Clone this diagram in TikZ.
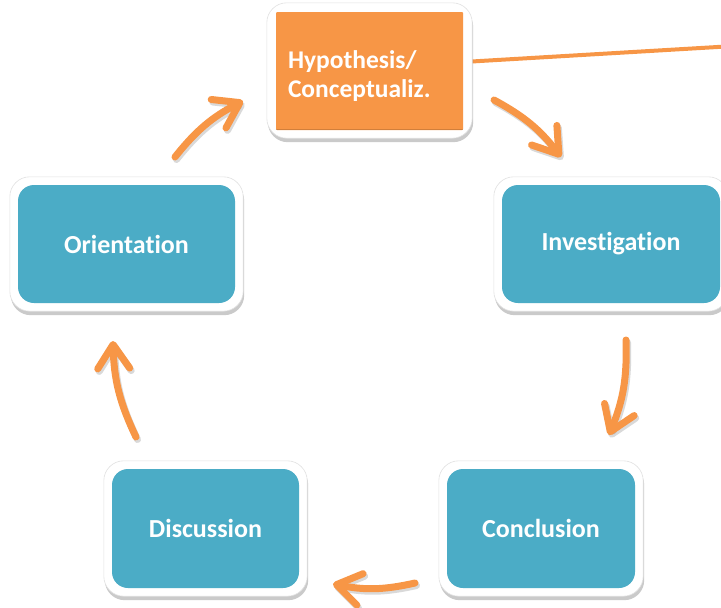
\documentclass[tikz,border=0pt]{standalone}
\usepackage{fontspec}
\setmainfont{Carlito}[Ligatures=NoCommon]
\usetikzlibrary{arrows.meta,shadows,calc}
\definecolor{stageblue}{HTML}{4BACC6}
\definecolor{stageorange}{HTML}{F79646}
\pgfdeclarelayer{back}
\pgfdeclarelayer{mid}
\pgfsetlayers{back,mid,main}
\tikzset{
  stagebox/.style={rounded corners=16pt, fill=stageblue, text=white,
    font=\bfseries\fontsize{26}{29}\selectfont, minimum height=118pt, inner sep=0pt},
  hypbox/.style={rounded corners=1pt, fill=stageorange, text=white,
    font=\bfseries\fontsize{25.5}{29}\selectfont, minimum height=118pt,
    text width=163pt, inner xsep=12pt, inner ysep=0pt, align=left},
  framebox/.style={fill=white, draw=black!12, line width=0.6pt, rounded corners=20pt,
    drop shadow={shadow xshift=1pt, shadow yshift=-4pt, opacity=.35, fill=black!60}},
  cyclearrow/.style={draw=stageorange, line width=7pt, line cap=round,
    -{Straight Barb[round, length=24pt, width=32pt]}},
  arrowshade/.style={draw=black, opacity=.15, line width=7pt, line cap=round,
    -{Straight Barb[round, length=24pt, width=32pt]}},
  linkline/.style={draw=stageorange, line width=4pt},
  edgeshade/.style={draw=stageorange!70!black, opacity=.5, line width=1.5pt}
}
\begin{document}
\begin{tikzpicture}[x=1pt,y=-1pt]
\useasboundingbox (0,0) rectangle (721,608);
% stages
\node[hypbox] (hyp) at (369.5,71) {\rule{0pt}{28pt}Hypothesis/\\Conceptualiz.};
\node[stagebox, minimum width=217pt] (orient) at (126.5,244) {Orientation};
\node[stagebox, minimum width=218pt] (inv) at (611,244) {Investigation};
\node[stagebox, minimum width=187pt, minimum height=119pt] (disc) at (205.5,528.5) {Discussion};
\node[stagebox, minimum width=188pt, minimum height=119pt] (conc) at (541,528.5) {Conclusion};
\draw[edgeshade] ($(hyp.south west)+(0,-0.75)$) -- ($(hyp.south east)+(0,-0.75)$);
% frames
\begin{pgfonlayer}{mid}
  \path[framebox] ($(hyp.north west)+(-9,-9)$) rectangle ($(hyp.south east)+(9,8)$);
  \foreach \n in {orient,inv,disc,conc}
    \path[framebox] ($(\n.north west)+(-8,-8)$) rectangle ($(\n.south east)+(8,8)$);
\end{pgfonlayer}
% line to the right
\coordinate (offright) at (726,46.5);
\begin{pgfonlayer}{back}
  \draw[linkline] ($(hyp.east)+(0,-9)$) -- (offright);
\end{pgfonlayer}
% cycle arrows
\coordinate (a1s) at (175,157);  \coordinate (a1e) at (243,101);
\coordinate (a2s) at (494,100);  \coordinate (a2e) at (561,157);
\coordinate (a3s) at (626,340);  \coordinate (a3e) at (609,435);
\coordinate (a4s) at (415,583);  \coordinate (a4e) at (333,584);
\coordinate (a5s) at (136,437);  \coordinate (a5e) at (113,341);
\foreach \s/\e in {a1s/a1e,a2s/a2e,a3s/a3e,a4s/a4e,a5s/a5e}{
  \draw[arrowshade, transform canvas={shift={(1.5pt,-2.5pt)}}] (\s) to[bend left=12] (\e);
  \draw[cyclearrow] (\s) to[bend left=12] (\e);
}
\end{tikzpicture}
\end{document}
